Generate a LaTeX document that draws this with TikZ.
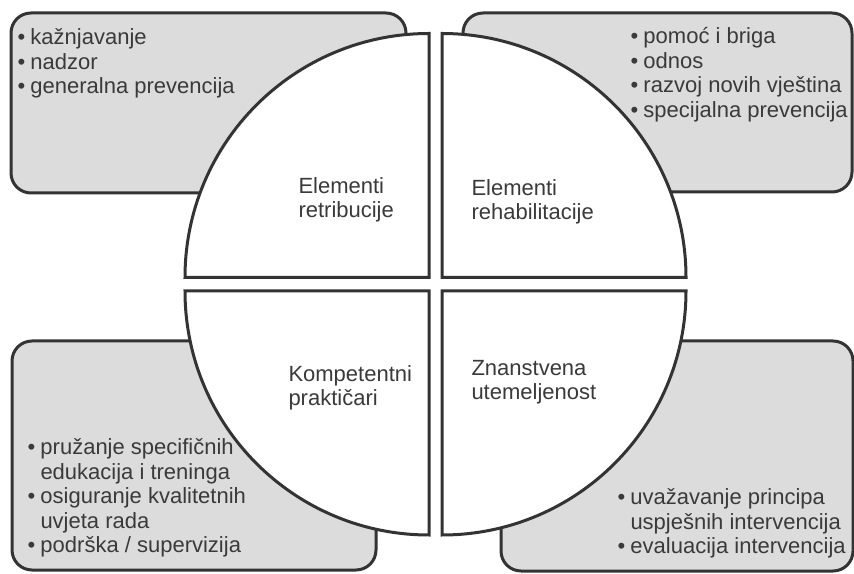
\documentclass[tikz,border=0pt]{standalone}
\usepackage{fontspec}
\setmainfont{Liberation Sans}
\usepackage{xcolor}
\definecolor{okvir}{HTML}{333333}
\definecolor{pozadina}{HTML}{DCDCDC}
\definecolor{tekst}{HTML}{3A3A3A}
\newcommand{\stavka}[1]{\makebox[13pt][l]{\textbullet}#1}
\newcommand{\nastavak}[1]{\hspace*{13pt}#1}

\begin{document}
\begin{tikzpicture}[x=1pt,y=1pt,line width=3pt,
    kutija/.style={draw=okvir,fill=pozadina,rounded corners=20pt},
    kvadrant/.style={draw=okvir,fill=white,line join=miter},
    popis/.style={anchor=north west,inner sep=0pt,align=left,text=tekst,font=\fontsize{22}{24.5}\selectfont},
    naslov/.style={anchor=north west,inner sep=0pt,align=left,text=tekst,font=\fontsize{22}{24}\selectfont}]
    \useasboundingbox (0,0) rectangle (854,573);

    % kutije u kutovima
    \draw[kutija] (11,380) rectangle (406,560);
    \draw[kutija] (463,381) rectangle (852,560);
    \draw[kutija] (12,3) rectangle (376,232);
    \draw[kutija] (501,2) rectangle (853,232);

    % krug od cetiri kvadranta
    \draw[kvadrant] (429,295.5) -- ++(-244,0) arc[start angle=180,end angle=90,radius=244] -- cycle;
    \draw[kvadrant] (442,295.5) -- ++(0,244) arc[start angle=90,end angle=0,radius=244] -- cycle;
    \draw[kvadrant] (429,282) -- ++(-244,0) arc[start angle=180,end angle=270,radius=244] -- cycle;
    \draw[kvadrant] (442,282) -- ++(244,0) arc[start angle=0,end angle=-90,radius=244] -- cycle;

    % natpisi kvadranata
    \node[naslov] (retribucija) at (297,397) {Elementi\\retribucije};
    \node[naslov] (rehabilitacija) at (470,395) {Elementi\\rehabilitacije};
    \node[naslov] (praktičari) at (287,209) {Kompetentni\\praktičari};
    \node[naslov] (znanost) at (470,214) {Znanstvena\\utemeljenost};

    % popisi u kutijama
    \node[popis] (popisTL) at (16,546) {\stavka{kažnjavanje}\\\stavka{nadzor}\\\stavka{generalna prevencija}};
    \node[popis] (popisTR) at (629,547) {\stavka{pomoć i briga}\\\stavka{odnos}\\\stavka{razvoj novih vještina}\\\stavka{specijalna prevencija}};
    \node[popis] (popisBL) at (26,136) {\stavka{pružanje specifičnih}\\\nastavak{edukacija i treninga}\\\stavka{osiguranje kvalitetnih}\\\nastavak{uvjeta rada}\\\stavka{podrška / supervizija}};
    \node[popis] (popisBR) at (616,86) {\stavka{uvažavanje principa}\\\nastavak{uspješnih intervencija}\\\stavka{evaluacija intervencija}};
\end{tikzpicture}
\end{document}
